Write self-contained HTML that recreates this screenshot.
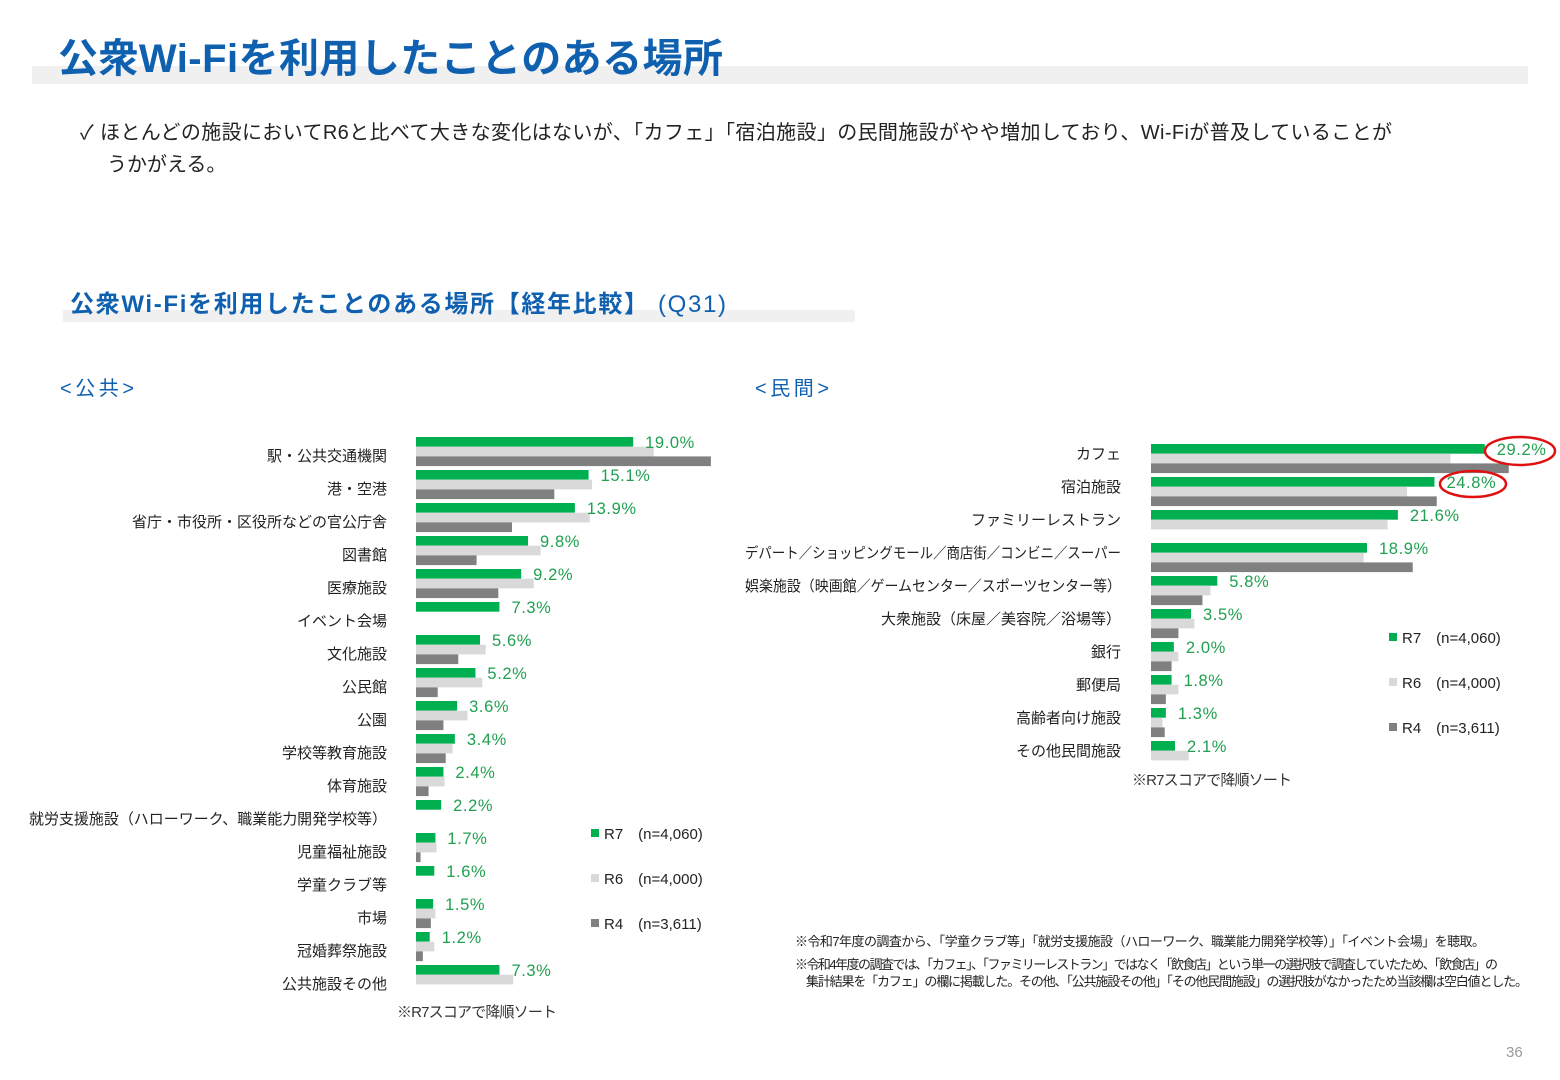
<!DOCTYPE html>
<html><head><meta charset="utf-8">
<style>
body{margin:0;width:1560px;height:1080px;background:#fff;overflow:hidden;font-family:"Liberation Sans","Noto Sans CJK JP",sans-serif;}
svg{position:absolute;left:0;top:0}
</style></head>
<body>
<svg id="s" width="1560" height="1080" font-family="Liberation Sans, Noto Sans CJK JP, sans-serif">
<rect x="32" y="66" width="1496" height="18" fill="#f0f0f0"/>
<text x="58" y="72" font-size="40" font-weight="bold" fill="#1060b0" textLength="665">公衆Wi-Fiを利用したことのある場所</text>
<text x="80" y="139" font-size="20" fill="#222" textLength="1312">✓ ほとんどの施設においてR6と比べて大きな変化はないが、「カフェ」「宿泊施設」の民間施設がやや増加しており、Wi-Fiが普及していることが</text>
<text x="107" y="171" font-size="20" fill="#222">うかがえる。</text>
<rect x="63" y="310" width="792" height="12" fill="#f0f0f0"/>
<text x="70" y="312" font-size="24" fill="#1060b0" textLength="656"><tspan font-weight="bold">公衆Wi-Fiを利用したことのある場所【経年比較】</tspan> (Q31)</text>
<text x="60" y="395" font-size="20" fill="#1060b0" textLength="74">&lt;公共&gt;</text>
<text x="755" y="395" font-size="20" fill="#1060b0" textLength="74">&lt;民間&gt;</text>
<g id="left"></g>
<g id="right"></g>
<ellipse cx="1520" cy="451" rx="35" ry="14" fill="none" stroke="#e01010" stroke-width="2.5"/>
<ellipse cx="1473" cy="484" rx="33" ry="13" fill="none" stroke="#e01010" stroke-width="2.5"/>
<text x="397" y="1017" font-size="15" fill="#333" textLength="160">※R7スコアで降順ソート</text>
<text x="1132" y="785" font-size="15" fill="#333" textLength="160">※R7スコアで降順ソート</text>
<text x="795" y="946" font-size="13" fill="#222" textLength="690">※令和7年度の調査から、「学童クラブ等」「就労支援施設（ハローワーク、職業能力開発学校等）」「イベント会場」を聴取。</text>
<text x="795" y="969" font-size="13" fill="#222" textLength="703">※令和4年度の調査では、「カフェ」、「ファミリーレストラン」ではなく「飲食店」という単一の選択肢で調査していたため、「飲食店」の</text>
<text x="806" y="986" font-size="13" fill="#222" textLength="722">集計結果を「カフェ」の欄に掲載した。その他、「公共施設その他」「その他民間施設」の選択肢がなかったため当該欄は空白値とした。</text>
<text x="1506" y="1057" font-size="15" fill="#999">36</text>
</svg>
<script>
const leftCats=["駅・公共交通機関","港・空港","省庁・市役所・区役所などの官公庁舎","図書館","医療施設","イベント会場","文化施設","公民館","公園","学校等教育施設","体育施設","就労支援施設（ハローワーク、職業能力開発学校等）","児童福祉施設","学童クラブ等","市場","冠婚葬祭施設","公共施設その他"];
const leftR7=[19.0,15.1,13.9,9.8,9.2,7.3,5.6,5.2,3.6,3.4,2.4,2.2,1.7,1.6,1.5,1.2,7.3];
const leftR6=[20.8,15.4,15.2,10.9,10.3,null,6.1,5.8,4.5,3.2,2.5,null,1.8,null,1.7,1.6,8.5];
const leftR4=[25.8,12.1,8.4,5.3,7.2,null,3.7,1.9,2.4,2.6,1.1,null,0.4,null,1.3,0.6,null];
const rightCats=["カフェ","宿泊施設","ファミリーレストラン","デパート／ショッピングモール／商店街／コンビニ／スーパー","娯楽施設（映画館／ゲームセンター／スポーツセンター等）","大衆施設（床屋／美容院／浴場等）","銀行","郵便局","高齢者向け施設","その他民間施設"];
const rightR7=[29.2,24.8,21.6,18.9,5.8,3.5,2.0,1.8,1.3,2.1];
const rightR6=[26.2,22.4,20.7,18.6,5.2,3.8,2.4,2.4,1.0,3.3];
const rightR4=[31.3,25.0,null,22.9,4.5,2.4,1.8,1.3,1.2,null];
const seriesNames=["R7　(n=4,060)","R6　(n=4,000)","R4　(n=3,611)"];
const NS="http://www.w3.org/2000/svg";
const colors=["#00b050","#d9d9d9","#808080"];
function mk(tag,attrs,parent){const e=document.createElementNS(NS,tag);for(const k in attrs)e.setAttribute(k,attrs[k]);parent.appendChild(e);return e;}
function chart(g,cats,series,x0,y0,labelX,labelDy,maxW,legX,legY){
  const sc=11.43,pitch=33,bh=9.7;
  const xs=v=>x0+v*sc;
  cats.forEach((c,i)=>{
    const top=y0+i*pitch;
    const t=mk('text',{x:labelX,y:top+labelDy,'font-size':15,fill:'#222','text-anchor':'end'},g);
    
    
    t.textContent=c;
    const w=t.getComputedTextLength();
    if(w>maxW){t.setAttribute('textLength',maxW);t.setAttribute('lengthAdjust','spacingAndGlyphs');}
    series.forEach((arr,s)=>{
      const v=arr[i]; if(v==null)return;
      const r=mk('rect',{x:x0,y:top+s*bh,width:xs(v)-x0,height:bh,fill:colors[s]},g);
      
      
    });
    const lv=mk('text',{x:xs(series[0][i])+12,y:top+11,'font-size':16.5,fill:'#20a050','letter-spacing':'0.6'},g);
    
    
    lv.textContent=series[0][i].toFixed(1)+'%';
  });
  seriesNames.forEach((n,s)=>{
    const y=legY+s*45;
    const r=mk('rect',{x:legX,y:y-5,width:8,height:8,fill:colors[s]},g);
    
    
    const t=mk('text',{x:legX+13,y:y+5,'font-size':15,fill:'#222'},g);
    
    
    t.textContent=n;
  });
}
chart(document.getElementById('left'),leftCats,[leftR7,leftR6,leftR4],416,437,387,24,358,591,834);
chart(document.getElementById('right'),rightCats,[rightR7,rightR6,rightR4],1151,444,1121,15,376,1389,638);
</script>
</body></html>
